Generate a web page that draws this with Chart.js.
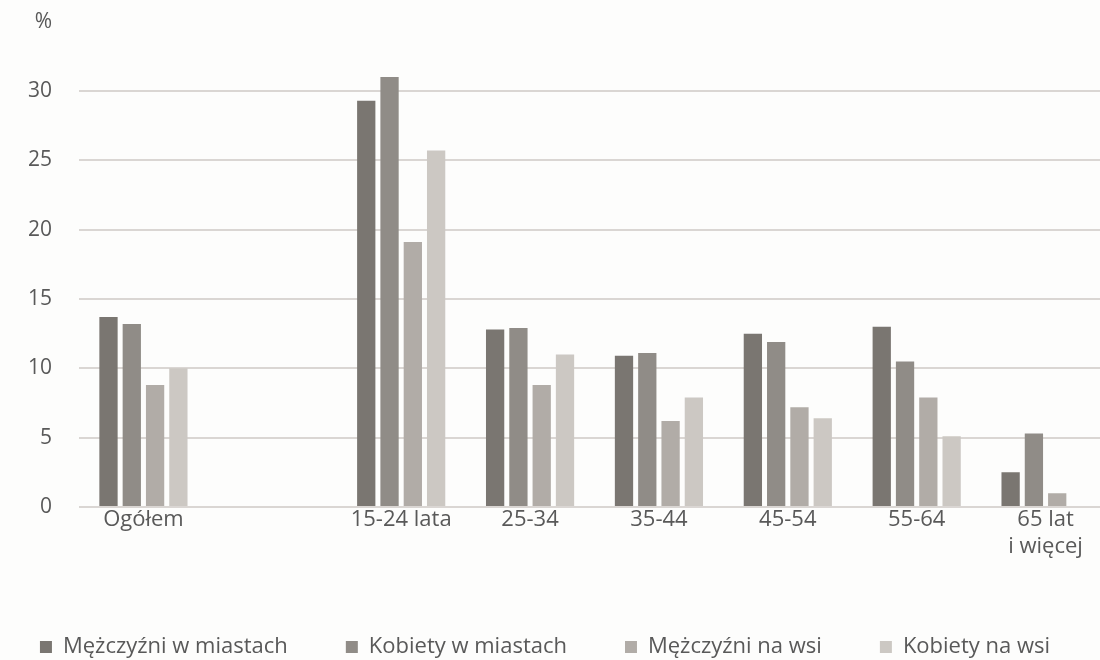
<!DOCTYPE html>
<html>
<head>
<meta charset="utf-8">
<script src="https://cdn.jsdelivr.net/npm/chart.js@4"></script>
<style>
  html, body { margin: 0; padding: 0; background: #fdfdfc; overflow: hidden; }
  #wrap { width: 1112px; height: 660px; }
</style>
</head>
<body>
<div id="wrap"><canvas id="chart" width="1112" height="660"></canvas></div>
<script>
// --- data ---
const categories = ['Ogółem', '', '15-24 lata', '25-34', '35-44', '45-54', '55-64', ['65 lat', 'i więcej']];
const seriesNames = ['Mężczyźni w miastach', 'Kobiety w miastach', 'Mężczyźni na wsi', 'Kobiety na wsi'];
const menCity    = [13.7, null, 29.3, 12.8, 10.9, 12.5, 13.0, 2.5];
const womenCity  = [13.2, null, 31.0, 12.9, 11.1, 11.9, 10.5, 5.3];
const menRural   = [8.8,  null, 19.1, 8.8,  6.2,  7.2,  7.9,  1.0];
const womenRural = [10.0, null, 25.7, 11.0, 7.9,  6.4,  5.1,  0];
const yStep = 5;
const yMax = 35;   // top slot carries the "%" unit label
const unitLabel = '%';

const colors = ['#7a7671', '#908c87', '#b1aca7', '#ccc8c3'];
const textColor = '#595959';
const gridColor = '#dad6d3';

const datasets = [menCity, womenCity, menRural, womenRural].map((d, i) => ({
  label: seriesNames[i],
  data: d,
  backgroundColor: colors[i],
  borderWidth: 0,
  categoryPercentage: 0.723,
  barPercentage: 0.785
}));

new Chart(document.getElementById('chart'), {
  type: 'bar',
  data: { labels: categories, datasets },
  options: {
    responsive: false,
    animation: false,
    // negative left padding widens the legend row so all four items fit on one line
    layout: { padding: { top: 5, right: 2, left: -20, bottom: -8 } },
    plugins: {
      tooltip: { enabled: false },
      legend: {
        position: 'bottom',
        labels: {
          color: textColor,
          font: { family: 'Open Sans', size: 22 },
          boxWidth: 12, boxHeight: 12,
          padding: 58
        }
      }
    },
    scales: {
      x: {
        grid: { display: false, drawTicks: false },
        border: { display: false },
        ticks: { color: textColor, font: { family: 'Open Sans', size: 22 }, padding: 0, maxRotation: 0, autoSkip: false },
        afterFit: s => { s.height = 71; }
      },
      y: {
        min: 0, max: yMax,
        border: { display: false },
        grid: {
          color: c => c.tick && c.tick.value === yMax ? 'transparent' : gridColor,
          lineWidth: 2,
          tickLength: 18,
          tickColor: 'transparent'
        },
        ticks: {
          stepSize: yStep,
          color: textColor,
          font: { family: 'Open Sans', size: 21 },
          padding: 9,
          callback: v => v === yMax ? unitLabel : v
        },
        afterFit: s => { s.width = 99; }
      }
    }
  }
});
</script>
</body>
</html>
